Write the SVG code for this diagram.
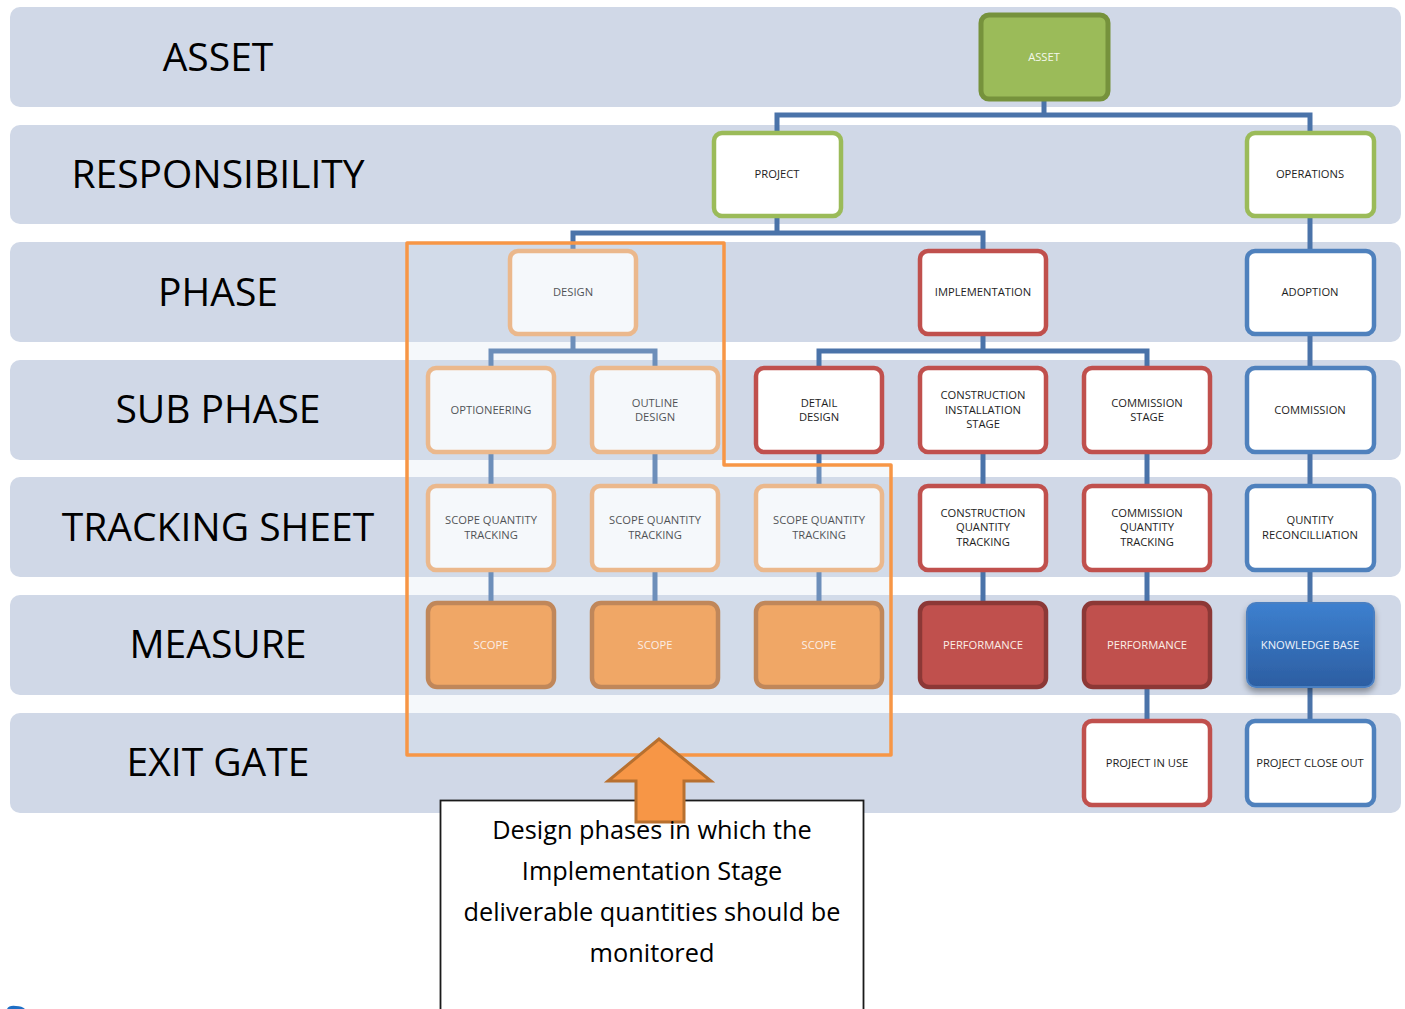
<svg xmlns="http://www.w3.org/2000/svg" width="1405" height="1009" viewBox="0 0 1405 1009">
  <style>
    .band { fill: #d0d8e7; }
    .bandLabel { font-family: "Open Sans", "DejaVu Sans", sans-serif; font-size: 39px; fill: #000; text-anchor: middle; }
    .node text { font-family: "Open Sans", "DejaVu Sans", sans-serif; font-size: 11.2px; fill: #1e1e1e; text-anchor: middle; }
    .node text.light { fill: #fbeee6; }
    .box { stroke-width: 4.5; }
    .green { fill: #fff; stroke: #9bbb59; }
    .orange { fill: #fff; stroke: #f2aa6b; }
    .red { fill: #fff; stroke: #c0504d; }
    .blue { fill: #fff; stroke: #4f81bd; }
    .asset { fill: #9bbb59; stroke: #76923c; stroke-width: 5; }
    .scope { fill: #f0a766; stroke: #c0875a; }
    .perf { fill: #c0504d; stroke: #8c3836; }
    .kb { fill: url(#kbGrad); stroke: #4a7fc2; stroke-width: 2; filter: url(#shadow); }
    .links path { fill: none; stroke: #4a73a9; stroke-width: 5; }
    .callout text { font-family: "Open Sans", "DejaVu Sans", sans-serif; font-size: 25.3px; fill: #000; text-anchor: middle; }
  </style>
  <defs>
    <linearGradient id="kbGrad" x1="0" y1="0" x2="0" y2="1">
      <stop offset="0" stop-color="#3d80cf"/>
      <stop offset="1" stop-color="#2c5ea2"/>
    </linearGradient>
    <filter id="shadow" x="-20%" y="-20%" width="140%" height="150%">
      <feDropShadow dx="0" dy="4" stdDeviation="3" flood-color="#000" flood-opacity="0.35"/>
    </filter>
  </defs>

  <rect width="1405" height="1009" fill="#fff"/>

  <!-- row bands -->
  <g id="bands">
    <rect class="band" x="10" y="7" width="1391" height="100" rx="10"/>
    <rect class="band" x="10" y="125" width="1391" height="99" rx="10"/>
    <rect class="band" x="10" y="242" width="1391" height="100" rx="10"/>
    <rect class="band" x="10" y="360" width="1391" height="100" rx="10"/>
    <rect class="band" x="10" y="477" width="1391" height="100" rx="10"/>
    <rect class="band" x="10" y="595" width="1391" height="100" rx="10"/>
    <rect class="band" x="10" y="713" width="1391" height="100" rx="10"/>
    <text class="bandLabel" x="218" y="71">ASSET</text>
    <text class="bandLabel" x="218" y="188">RESPONSIBILITY</text>
    <text class="bandLabel" x="218" y="306">PHASE</text>
    <text class="bandLabel" x="218" y="423">SUB PHASE</text>
    <text class="bandLabel" x="218" y="541">TRACKING SHEET</text>
    <text class="bandLabel" x="218" y="658">MEASURE</text>
    <text class="bandLabel" x="218" y="776">EXIT GATE</text>
  </g>

  <!-- connectors -->
  <g class="links" id="connectors">
    <path d="M1044 100 V115 M777 132 V115 H1310 V132"/>
    <path d="M777 216 V233 M573 250 V233 H983 V250"/>
    <path d="M1310 216 V250"/>
    <path d="M573 334 V351 M491 367 V351 H655 V367"/>
    <path d="M983 334 V351 M819 367 V351 H1147 V367"/>
    <path d="M1310 334 V367"/>
    <path d="M491 452 V602 M655 452 V602 M819 452 V602 M983 452 V602 M1147 452 V720 M1310 452 V720"/>
  </g>

  <!-- nodes -->
  <g id="n-asset" class="node">
    <rect class="asset" x="981" y="15" width="127" height="84" rx="8"/>
    <text class="light" x="1044" y="61" style="fill:#f4f8ec">ASSET</text>
  </g>
  <g id="n-project" class="node">
    <rect class="box green" x="714" y="133" width="127" height="83" rx="8"/>
    <text x="777" y="178">PROJECT</text>
  </g>
  <g id="n-operations" class="node">
    <rect class="box green" x="1247" y="133" width="127" height="83" rx="8"/>
    <text x="1310" y="178">OPERATIONS</text>
  </g>
  <g id="n-design" class="node">
    <rect class="box orange" x="510" y="251" width="126" height="83" rx="8"/>
    <text x="573" y="296">DESIGN</text>
  </g>
  <g id="n-implementation" class="node">
    <rect class="box red" x="920" y="251" width="126" height="83" rx="8"/>
    <text x="983" y="296">IMPLEMENTATION</text>
  </g>
  <g id="n-adoption" class="node">
    <rect class="box blue" x="1247" y="251" width="127" height="83" rx="8"/>
    <text x="1310" y="296">ADOPTION</text>
  </g>

  <g id="n-optioneering" class="node">
    <rect class="box orange" x="428" y="368" width="126" height="84" rx="8"/>
    <text x="491" y="414">OPTIONEERING</text>
  </g>
  <g id="n-outline-design" class="node">
    <rect class="box orange" x="592" y="368" width="126" height="84" rx="8"/>
    <text x="655" y="407">OUTLINE</text>
    <text x="655" y="421">DESIGN</text>
  </g>
  <g id="n-detail-design" class="node">
    <rect class="box red" x="756" y="368" width="126" height="84" rx="8"/>
    <text x="819" y="407">DETAIL</text>
    <text x="819" y="421">DESIGN</text>
  </g>
  <g id="n-construction-stage" class="node">
    <rect class="box red" x="920" y="368" width="126" height="84" rx="8"/>
    <text x="983" y="399">CONSTRUCTION</text>
    <text x="983" y="414">INSTALLATION</text>
    <text x="983" y="428">STAGE</text>
  </g>
  <g id="n-commission-stage" class="node">
    <rect class="box red" x="1084" y="368" width="126" height="84" rx="8"/>
    <text x="1147" y="407">COMMISSION</text>
    <text x="1147" y="421">STAGE</text>
  </g>
  <g id="n-commission" class="node">
    <rect class="box blue" x="1247" y="368" width="127" height="84" rx="8"/>
    <text x="1310" y="414">COMMISSION</text>
  </g>

  <g id="n-sqt-1" class="node">
    <rect class="box orange" x="428" y="486" width="126" height="84" rx="8"/>
    <text x="491" y="524">SCOPE QUANTITY</text>
    <text x="491" y="539">TRACKING</text>
  </g>
  <g id="n-sqt-2" class="node">
    <rect class="box orange" x="592" y="486" width="126" height="84" rx="8"/>
    <text x="655" y="524">SCOPE QUANTITY</text>
    <text x="655" y="539">TRACKING</text>
  </g>
  <g id="n-sqt-3" class="node">
    <rect class="box orange" x="756" y="486" width="126" height="84" rx="8"/>
    <text x="819" y="524">SCOPE QUANTITY</text>
    <text x="819" y="539">TRACKING</text>
  </g>
  <g id="n-construction-qt" class="node">
    <rect class="box red" x="920" y="486" width="126" height="84" rx="8"/>
    <text x="983" y="517">CONSTRUCTION</text>
    <text x="983" y="531">QUANTITY</text>
    <text x="983" y="546">TRACKING</text>
  </g>
  <g id="n-commission-qt" class="node">
    <rect class="box red" x="1084" y="486" width="126" height="84" rx="8"/>
    <text x="1147" y="517">COMMISSION</text>
    <text x="1147" y="531">QUANTITY</text>
    <text x="1147" y="546">TRACKING</text>
  </g>
  <g id="n-reconciliation" class="node">
    <rect class="box blue" x="1247" y="486" width="127" height="84" rx="8"/>
    <text x="1310" y="524">QUNTITY</text>
    <text x="1310" y="539">RECONCILLIATION</text>
  </g>

  <g id="n-performance-1" class="node">
    <rect class="box perf" x="920" y="603" width="126" height="84" rx="9"/>
    <text class="light" x="983" y="649">PERFORMANCE</text>
  </g>
  <g id="n-performance-2" class="node">
    <rect class="box perf" x="1084" y="603" width="126" height="84" rx="9"/>
    <text class="light" x="1147" y="649">PERFORMANCE</text>
  </g>
  <g id="n-knowledge-base" class="node">
    <rect class="kb" x="1247" y="603" width="127" height="84" rx="9"/>
    <text class="light" x="1310" y="649" style="fill:#eef3fb">KNOWLEDGE BASE</text>
  </g>

  <g id="n-project-in-use" class="node">
    <rect class="box red" x="1084" y="721" width="126" height="84" rx="8"/>
    <text x="1147" y="767">PROJECT IN USE</text>
  </g>
  <g id="n-project-close-out" class="node">
    <rect class="box blue" x="1247" y="721" width="127" height="84" rx="8"/>
    <text x="1310" y="767">PROJECT CLOSE OUT</text>
  </g>

  <!-- tinted design region -->
  <polygon id="design-tint" points="407,243 724,243 724,465 891,465 891,755 407,755" fill="#d8e3ef" fill-opacity="0.25"/>

  <!-- scope measures sit above the tint -->
  <g id="n-scope-1" class="node">
    <rect class="box scope" x="428" y="603" width="126" height="84" rx="9"/>
    <text class="light" x="491" y="649">SCOPE</text>
  </g>
  <g id="n-scope-2" class="node">
    <rect class="box scope" x="592" y="603" width="126" height="84" rx="9"/>
    <text class="light" x="655" y="649">SCOPE</text>
  </g>
  <g id="n-scope-3" class="node">
    <rect class="box scope" x="756" y="603" width="126" height="84" rx="9"/>
    <text class="light" x="819" y="649">SCOPE</text>
  </g>

  <!-- design region outline -->
  <polygon id="design-region" points="407,243 724,243 724,465 891,465 891,755 407,755" fill="none" stroke="#f79646" stroke-width="3.5" stroke-linejoin="round"/>

  <!-- explanatory callout -->
  <g id="callout" class="callout">
    <rect x="440.5" y="800.5" width="423" height="215" fill="#fff" stroke="#1a1a1a" stroke-width="1.8"/>
    <polygon points="659,739 608,781 636,781 636,822 684,822 684,781 711,781" fill="#f79646" stroke="#b8702f" stroke-width="3" stroke-linejoin="miter"/>
    <text x="652" y="839">Design phases in which the</text>
    <text x="652" y="880">Implementation Stage</text>
    <text x="652" y="921">deliverable quantities should be</text>
    <text x="652" y="962">monitored</text>
  </g>

  <!-- clipped logo fragment at page edge -->
  <path d="M7 1009 Q9 1005 16 1006 Q22 1006 25 1009 Z" fill="#1f6fc5"/>
</svg>
